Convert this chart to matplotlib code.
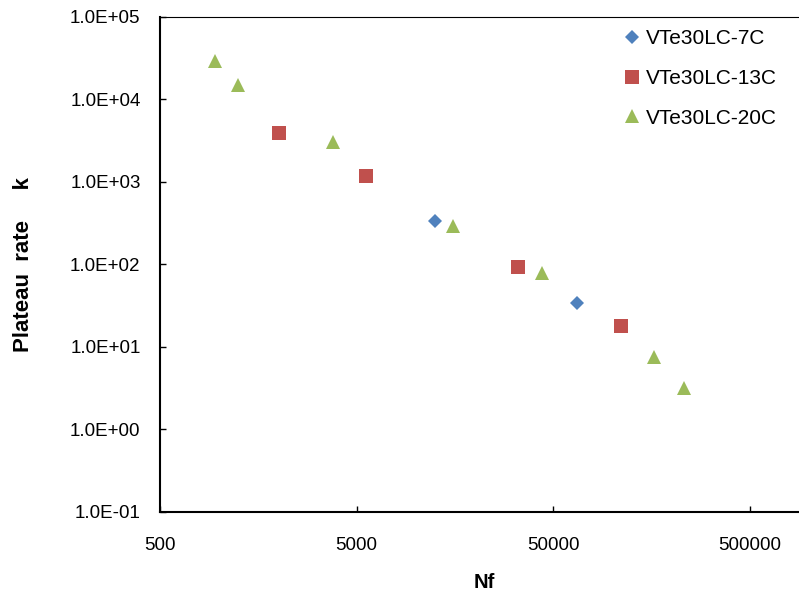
import numpy as np
import matplotlib.pyplot as plt
from matplotlib.ticker import FixedLocator, FuncFormatter, NullLocator

plt.rcParams['font.family'] = ['Liberation Sans', 'DejaVu Sans']

# values
nf_7c = [12600, 65900]
k_7c = [334, 33.6]

nf_13c = [2005, 5575, 33100, 110300]
k_13c = [3925, 1183, 91.7, 17.7]

nf_20c = [947, 1240, 3775, 15400, 44050, 162400, 232700]
k_20c = [28800, 14660, 3070, 290, 77.6, 7.57, 3.13]

labels = ["VTe30LC-7C", "VTe30LC-13C", "VTe30LC-20C"]
x_ticks = [500, 5000, 50000, 500000]
y_ticks = [1e-1, 1e0, 1e1, 1e2, 1e3, 1e4, 1e5]

W, H = 799, 592
fig = plt.figure(figsize=(W / 100, H / 100), dpi=100)
ax = fig.add_axes([160 / W, (H - 511.7) / H, 648.7 / W, 495 / H])

ax.plot(nf_7c, k_7c, linestyle='none', marker='D', ms=7.5, color='#4F81BD',
        mew=0, label=labels[0])
ax.plot(nf_13c, k_13c, linestyle='none', marker='s', ms=10, color='#C0504D',
        mew=0, label=labels[1])
ax.plot(nf_20c, k_20c, linestyle='none', marker='^', ms=10.5, color='#9BBB59',
        mew=0, label=labels[2])

ax.set_xscale('log')
ax.set_yscale('log')
ax.set_xlim(500, 1e6)
ax.set_ylim(1e-1, 1e5)

ax.xaxis.set_major_locator(FixedLocator(x_ticks))
ax.xaxis.set_minor_locator(NullLocator())
ax.xaxis.set_major_formatter(FuncFormatter(lambda v, p: "%d" % round(v)))
ax.yaxis.set_major_locator(FixedLocator(y_ticks))
ax.yaxis.set_minor_locator(NullLocator())
ax.yaxis.set_major_formatter(FuncFormatter(lambda v, p: "%.1E" % v))

ax.tick_params(axis='x', direction='in', length=4, width=1, pad=18, labelsize=13.5)
ax.tick_params(axis='y', direction='in', length=4, width=1, pad=14, labelsize=13.5)

ax.spines['right'].set_visible(False)
ax.spines['top'].set_linewidth(0.8)
ax.spines['left'].set_linewidth(1.5)
ax.spines['bottom'].set_linewidth(1.5)

ax.set_xlabel("Nf", fontsize=14.5, fontweight='bold', labelpad=14)
ax.set_ylabel("Plateau  rate     k", fontsize=16, fontweight='bold')
ax.yaxis.set_label_coords(-(160 - 34) / 648.7, 0.5)

ax.legend(loc='upper left', bbox_to_anchor=(625 / W, 1 - 29 / H),
          bbox_transform=fig.transFigure, frameon=False, fontsize=15,
          handlelength=0.7, handletextpad=0.3, labelspacing=1.0,
          borderpad=0, borderaxespad=0, numpoints=1)

fig.savefig("out.png", dpi=100)
